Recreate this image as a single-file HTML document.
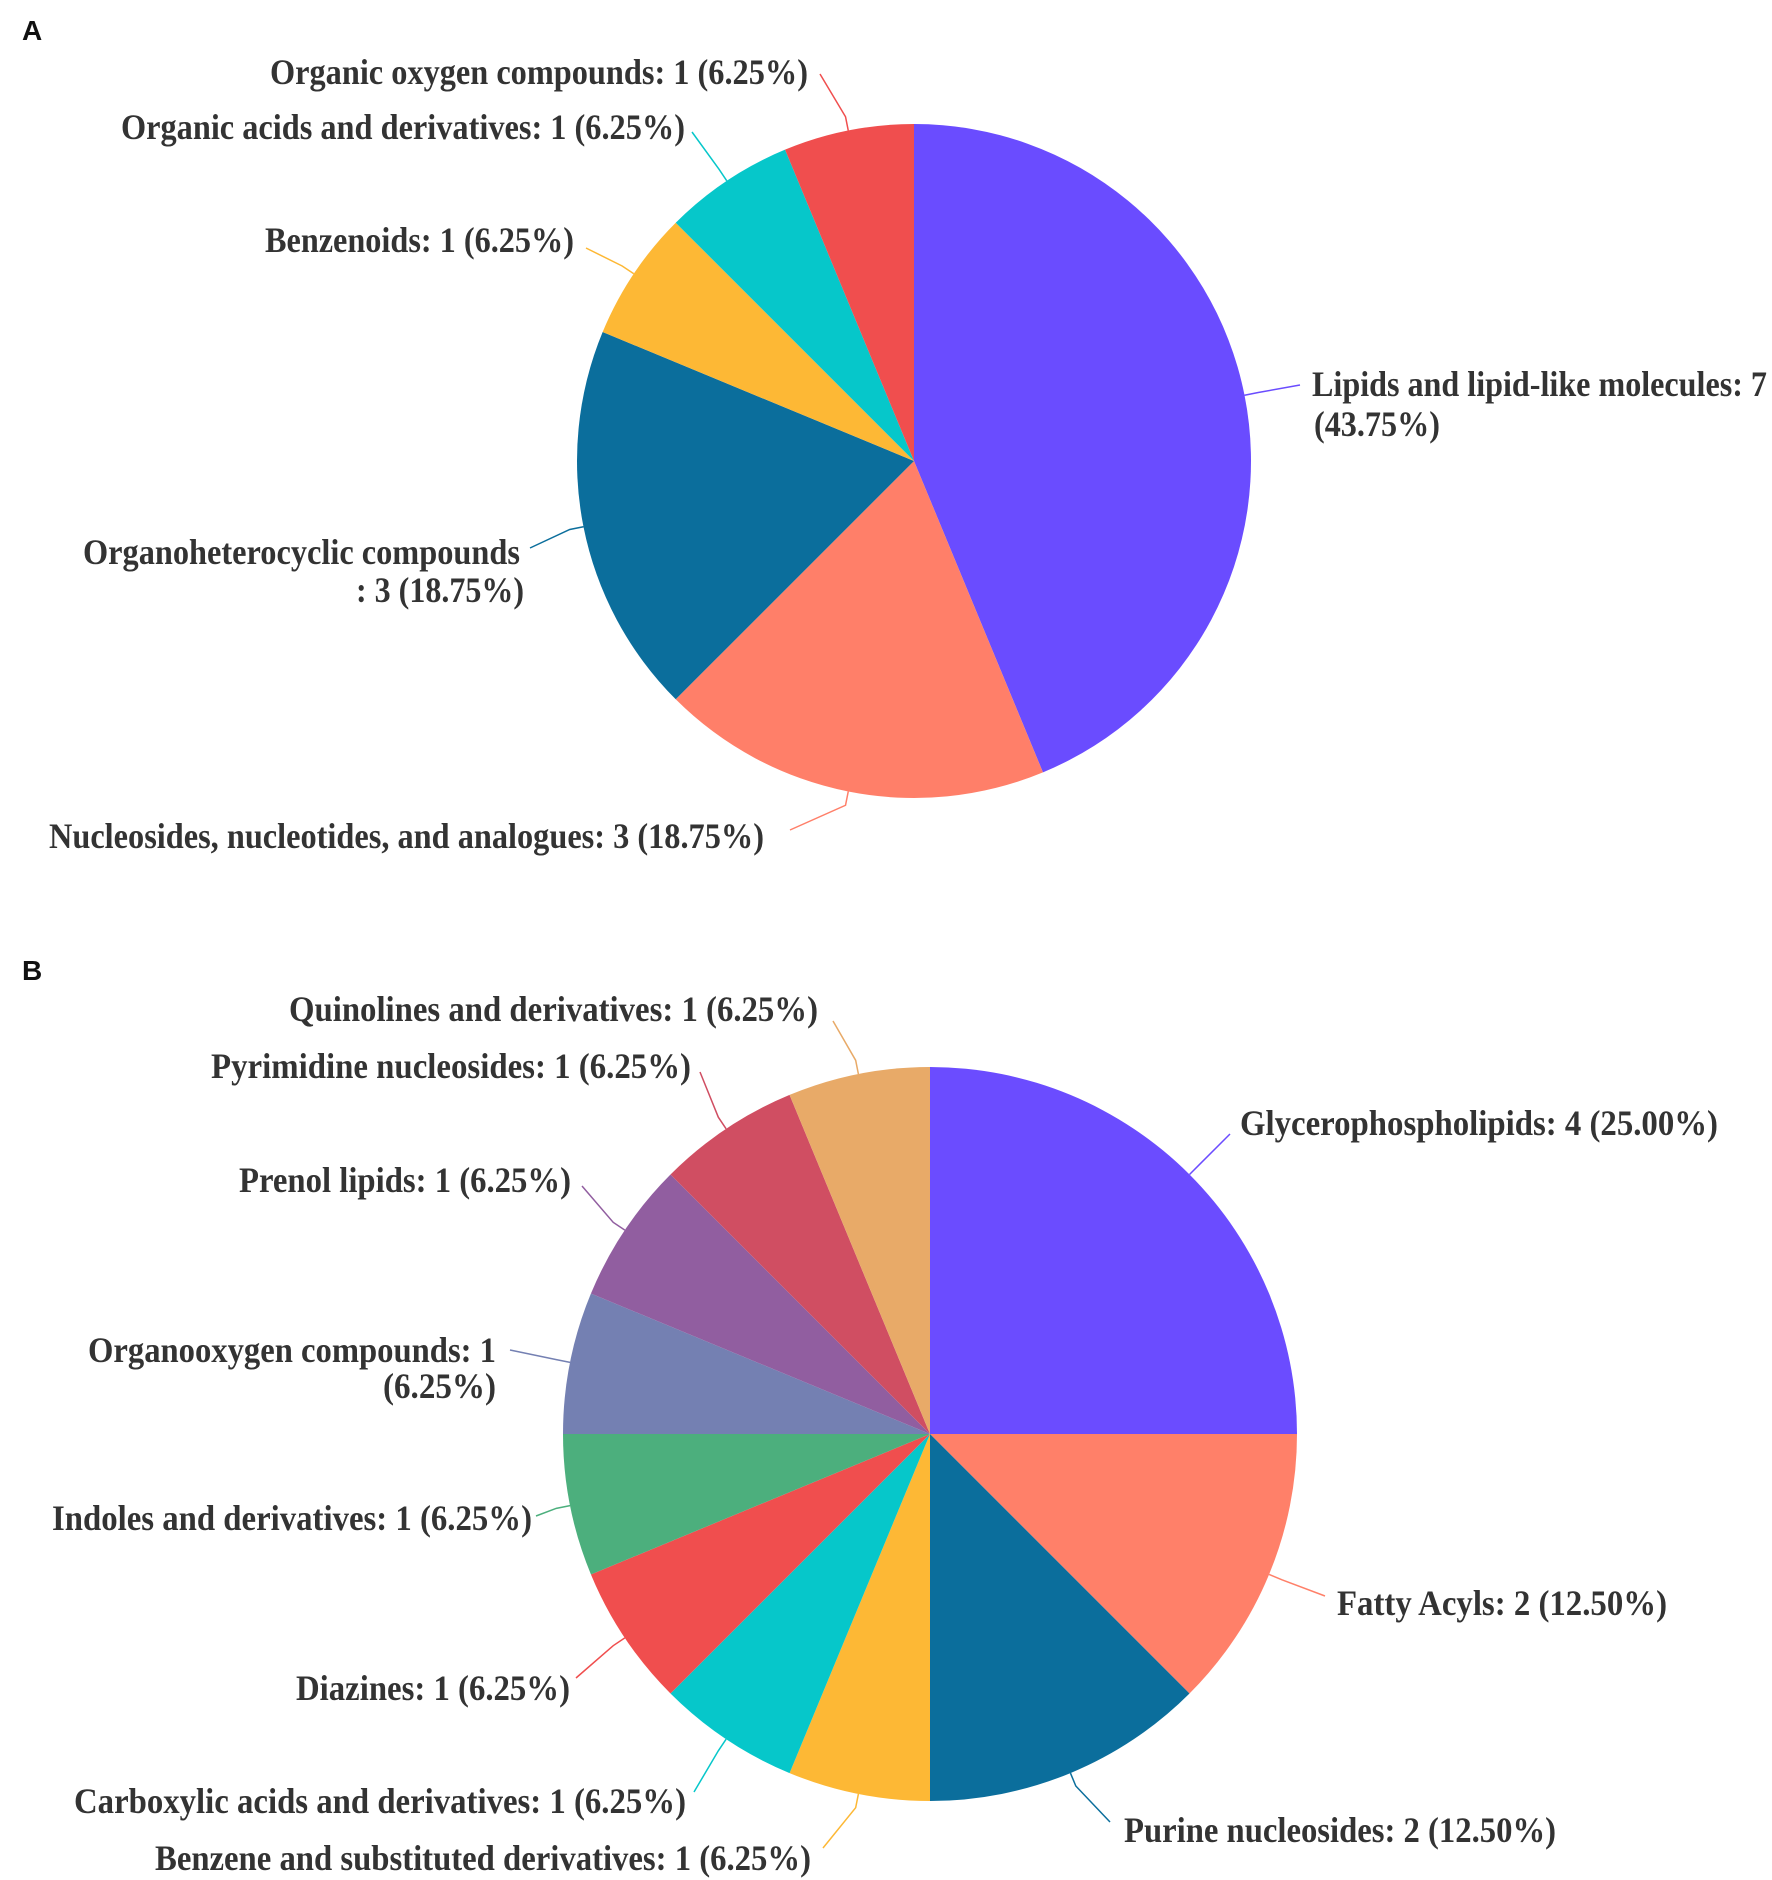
<!DOCTYPE html>
<html><head><meta charset="utf-8"><style>
html,body{margin:0;padding:0;background:#fff;}
svg{display:block;}
text{font-family:"Liberation Serif",serif;font-weight:bold;fill:#333;}
</style></head><body>
<svg id="chart" width="1772" height="1880" viewBox="0 0 1772 1880" xmlns="http://www.w3.org/2000/svg">
<text x="22" y="40" style="font-family:'Liberation Sans',sans-serif;font-size:28px;fill:#111">A</text>
<text x="22" y="980" style="font-family:'Liberation Sans',sans-serif;font-size:28px;fill:#111">B</text>
</svg>
<script>
const catsA = ["Lipids and lipid-like molecules","Nucleosides, nucleotides, and analogues","Organoheterocyclic compounds","Benzenoids","Organic acids and derivatives","Organic oxygen compounds"];
const valsA = [7,3,3,1,1,1];
const pctA = ["43.75%","18.75%","18.75%","6.25%","6.25%","6.25%"];
const colorsA = ["#6a4cff","#ff7f69","#0b6e9c","#fdb835","#06c7ca","#f04e4e"];
const catsB = ["Glycerophospholipids","Fatty Acyls","Purine nucleosides","Benzene and substituted derivatives","Carboxylic acids and derivatives","Diazines","Indoles and derivatives","Organooxygen compounds","Prenol lipids","Pyrimidine nucleosides","Quinolines and derivatives"];
const valsB = [4,2,2,1,1,1,1,1,1,1,1];
const pctB = ["25.00%","12.50%","12.50%","6.25%","6.25%","6.25%","6.25%","6.25%","6.25%","6.25%","6.25%"];
const colorsB = ["#6b4cff","#ff8069","#0b6e9c","#fdb835","#06c7ca","#f04e4e","#4caf7d","#7480b2","#915ea0","#d04e62","#e8aa68"];

const layA = [
 {a:"start",x:1312,y:396,w:455,l2:{t:1,x:1314,y:436,w:126},lx:1300,ly:385},
 {a:"end",x:764,y:848,w:715,lx:790,ly:830},
 {a:"end",x:520,y:564,w:437,l2:{t:1,x:524,y:602,w:168},lx:530,ly:548},
 {a:"end",x:574,y:252,w:309,lx:586,ly:248},
 {a:"end",x:685,y:139,w:564,lx:692,ly:132},
 {a:"end",x:808,y:84,w:538,lx:820,ly:74}
];
const layB = [
 {a:"start",x:1240,y:1135,w:478,lx:1230,ly:1134},
 {a:"start",x:1337,y:1615,w:330,lx:1325,ly:1596},
 {a:"start",x:1124,y:1842,w:432,lx:1110,ly:1822},
 {a:"end",x:811,y:1870,w:656,lx:823,ly:1848},
 {a:"end",x:686,y:1813,w:612,lx:694,ly:1792},
 {a:"end",x:570,y:1700,w:274,lx:576,ly:1678},
 {a:"end",x:532,y:1530,w:480,lx:536,ly:1516},
 {a:"end",x:496,y:1362,w:408,l2:{t:1,x:496,y:1398,w:113},lx:510,ly:1350},
 {a:"end",x:571,y:1192,w:332,lx:582,ly:1186},
 {a:"end",x:691,y:1078,w:480,lx:700,ly:1072},
 {a:"end",x:818,y:1021,w:529,lx:833,ly:1021}
];
const NS="http://www.w3.org/2000/svg";
const svg=document.getElementById("chart");
function pt(cx,cy,r,a){return [cx+r*Math.sin(a), cy-r*Math.cos(a)];}
function drawPie(id,cx,cy,r,cats,vals,pcts,colors,lay){
  const g=document.createElementNS(NS,"g");
  
  
  svg.appendChild(g);
  const total=vals.reduce((s,v)=>s+v,0);
  let a0=0;
  vals.forEach((v,i)=>{
    const a1=a0+v/total*2*Math.PI;
    const p0=pt(cx,cy,r,a0), p1=pt(cx,cy,r,a1);
    const large=(a1-a0)>Math.PI?1:0;
    const path=document.createElementNS(NS,"path");
    path.setAttribute("d",`M${cx},${cy}L${p0[0]},${p0[1]}A${r},${r} 0 ${large} 1 ${p1[0]},${p1[1]}Z`);
    path.setAttribute("fill",colors[i]);
    
    
    g.appendChild(path);
    const am=(a0+a1)/2;
    const e=pt(cx,cy,r,am), e2=pt(cx,cy,r+14,am);
    const L=lay[i];
    const line=document.createElementNS(NS,"path");
    line.setAttribute("d",`M${e[0]},${e[1]}L${e2[0]},${e2[1]}Q${e2[0]},${e2[1]} ${L.lx},${L.ly}`);
    line.setAttribute("fill","none");
    line.setAttribute("stroke",colors[i]);
    line.setAttribute("stroke-width","1.5");
    
    
    g.appendChild(line);
    const full=cats[i]+": "+vals[i]+" ("+pcts[i]+")";
    let l1=full,l2=null;
    if(L.l2){
      if(cats[i].startsWith("Organohet")){l1=cats[i]; l2=": "+vals[i]+" ("+pcts[i]+")";}
      else {l1=cats[i]+": "+vals[i]; l2="("+pcts[i]+")";}
    }
    const t=document.createElementNS(NS,"text");
    t.setAttribute("x",L.x);t.setAttribute("y",L.y);
    t.setAttribute("text-anchor",L.a);
    t.setAttribute("font-size","36");
    t.setAttribute("textLength",L.w);
    t.setAttribute("lengthAdjust","spacingAndGlyphs");
    t.textContent=l1;
    
    
    g.appendChild(t);
    if(l2){
      const t2=document.createElementNS(NS,"text");
      t2.setAttribute("x",L.l2.x);t2.setAttribute("y",L.l2.y);
      t2.setAttribute("text-anchor",L.a);
      t2.setAttribute("font-size","36");
      t2.setAttribute("textLength",L.l2.w);
      t2.setAttribute("lengthAdjust","spacingAndGlyphs");
      t2.textContent=l2;
      
      
      g.appendChild(t2);
    }
    a0=a1;
  });
}
drawPie("pie-a",914,461,337,catsA,valsA,pctA,colorsA,layA);
drawPie("pie-b",930,1434,367,catsB,valsB,pctB,colorsB,layB);
</script>
</body></html>
